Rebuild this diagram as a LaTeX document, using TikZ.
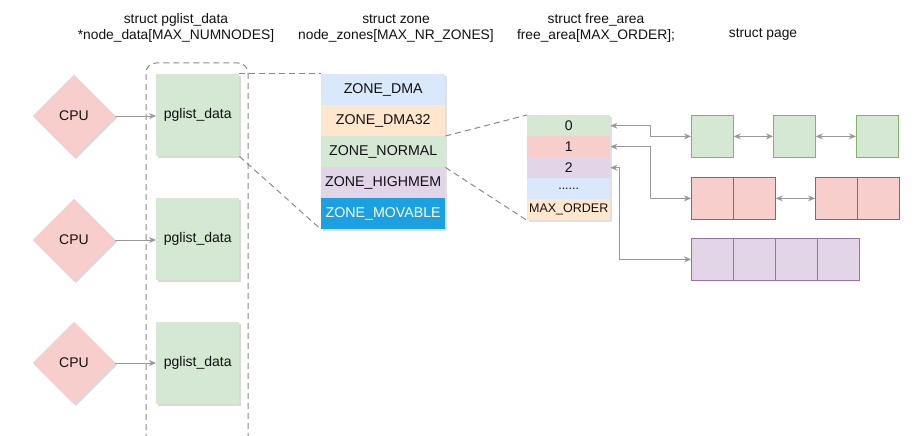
\documentclass[tikz,border=0pt]{standalone}
\usepackage{fontspec}
\setmainfont{Liberation Sans}
\usetikzlibrary{shapes.geometric,arrows.meta,shadows}
\definecolor{redfill}{HTML}{F8CECC}
\definecolor{redline}{HTML}{B85450}
\definecolor{greenfill}{HTML}{D5E8D4}
\definecolor{greenline}{HTML}{82B366}
\definecolor{purplefill}{HTML}{E1D5E7}
\definecolor{purpleline}{HTML}{9673A6}
\definecolor{bluefill}{HTML}{DAE8FC}
\definecolor{orangefill}{HTML}{FFE6CC}
\definecolor{movable}{HTML}{1BA1E2}
\definecolor{arrowgray}{HTML}{999999}
\definecolor{dashgray}{HTML}{8A8A8A}
\definecolor{txt}{HTML}{111111}
\begin{document}
\begin{tikzpicture}[x=1pt,y=-1pt,
  every node/.style={text=txt},
  title/.style={align=center,font=\fontsize{13.8}{16}\selectfont},
  cpu/.style={diamond,aspect=1,minimum width=82pt,minimum height=82pt,inner sep=0pt,
     fill=redfill,draw=redfill,font=\fontsize{14}{16}\selectfont,
     drop shadow={shadow xshift=2pt,shadow yshift=-2pt,fill=black!25,opacity=0.6}},
  pgbox/.style={rectangle,anchor=north west,minimum width=83pt,minimum height=82pt,inner sep=0pt,
     fill=greenfill,font=\fontsize{14}{16}\selectfont,
     drop shadow={shadow xshift=2pt,shadow yshift=-2pt,fill=black!25,opacity=0.6}},
  zonerow/.style={rectangle,anchor=north west,minimum width=124pt,minimum height=31pt,inner sep=0pt,
     font=\fontsize{14.2}{16}\selectfont},
  farow/.style={rectangle,anchor=north west,minimum width=83pt,minimum height=21pt,inner sep=0pt,
     font=\fontsize{14}{16}\selectfont},
  pagebox/.style={rectangle,anchor=north west,minimum width=42pt,minimum height=42pt,inner sep=0pt,line width=0.8pt},
  arr/.style={draw=arrowgray,line width=0.9pt,-{Stealth[length=7pt,width=6pt]}},
  darr/.style={draw=arrowgray,line width=0.9pt,{Stealth[length=7pt,width=6pt]}-{Stealth[length=7pt,width=6pt]}},
  dline/.style={draw=dashgray,line width=1pt,dash pattern=on 6pt off 4pt}
]
\useasboundingbox (0,0) rectangle (916,436);

% titles
\node[title] (t1) at (176,28) {struct pglist\_data\\*node\_data[MAX\_NUMNODES]};
\node[title] (t2) at (396,28) {struct zone\\node\_zones[MAX\_NR\_ZONES]};
\node[title] (t3) at (596,28) {struct free\_area\\free\_area[MAX\_ORDER];};
\node[title] (t4) at (763,34) {struct page};

% dashed container
\draw[dline,rounded corners=10pt] (146,440) -- (146,63) -- (248,63) -- (248,440);

% CPUs
\node[cpu] (cpu1) at (74,116) {CPU};
\node[cpu] (cpu2) at (74,240) {CPU};
\node[cpu] (cpu3) at (74,363) {CPU};

% pglist_data
\node[pgbox] (pg1) at (156,74) {pglist\_data};
\node[pgbox] (pg2) at (156,198) {pglist\_data};
\node[pgbox] (pg3) at (156,322) {pglist\_data};

\draw[arr] (cpu1.east) -- (pg1.west |- cpu1.east);
\draw[arr] (cpu2.east) -- (pg2.west |- cpu2.east);
\draw[arr] (cpu3.east) -- (pg3.west |- cpu3.east);

% zone box
\fill[black!20,opacity=0.6] (323,76) rectangle (447,231);
\node[zonerow,fill=bluefill] (z1) at (321,74) {ZONE\_DMA};
\node[zonerow,fill=orangefill] (z2) at (321,105) {ZONE\_DMA32};
\node[zonerow,fill=greenfill] (z3) at (321,136) {ZONE\_NORMAL};
\node[zonerow,fill=purplefill] (z4) at (321,167) {ZONE\_HIGHMEM};
\node[zonerow,fill=movable,text=white] (z5) at (321,198) {ZONE\_MOVABLE};

\draw[dline] (pg1.north east) -- (z1.north west);
\draw[dline] (pg1.south east) -- (z5.south west);

% free_area box
\fill[black!20,opacity=0.6] (529,117) rectangle (612,222);
\node[farow,fill=greenfill] (f0) at (527,115) {0};
\node[farow,fill=redfill] (f1) at (527,136) {1};
\node[farow,fill=purplefill] (f2) at (527,157) {2};
\node[farow,fill=bluefill,font=\fontsize{12.5}{14}\selectfont] (f3) at (527,178) {......};
\node[farow,fill=orangefill,font=\fontsize{12.5}{14}\selectfont] (f4) at (527,199) {MAX\_ORDER};

\draw[dline] (z3.north east) -- (f0.north west);
\draw[dline] (z3.south east) -- (f4.south west);

% pages
\node[pagebox,fill=greenfill,draw=greenline] (g1) at (691,115) {};
\node[pagebox,fill=greenfill,draw=greenline] (g2) at (773,115) {};
\node[pagebox,fill=greenfill,draw=greenline] (g3) at (856,115) {};

\node[pagebox,fill=redfill,draw=redline] (r1) at (691,177) {};
\node[pagebox,fill=redfill,draw=redline] (r2) at (733,177) {};
\node[pagebox,fill=redfill,draw=redline] (r3) at (815,177) {};
\node[pagebox,fill=redfill,draw=redline] (r4) at (857,177) {};

\node[pagebox,fill=purplefill,draw=purpleline] (p1) at (691,238) {};
\node[pagebox,fill=purplefill,draw=purpleline] (p2) at (733,238) {};
\node[pagebox,fill=purplefill,draw=purpleline] (p3) at (775,238) {};
\node[pagebox,fill=purplefill,draw=purpleline] (p4) at (817,238) {};

% connectors
\draw[darr] (f0.east) -- ++(40,0) |- (g1.west);
\draw[darr] (f1.east) -- ++(40,0) |- (r1.west);
\draw[darr] (f2.east) -- ++(9,0) |- (p1.west);

\draw[darr] (g1.east) -- (g2.west);
\draw[darr] (g2.east) -- (g3.west);
\draw[darr] (r2.east) -- (r3.west);
\end{tikzpicture}
\end{document}
